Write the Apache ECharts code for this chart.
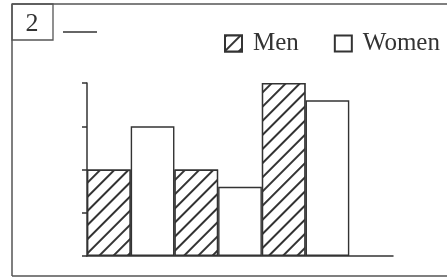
<!DOCTYPE html>
<html>
<head>
<meta charset="utf-8">
<script src="https://cdn.jsdelivr.net/npm/echarts@6/dist/echarts.min.js"></script>
<style>
  html, body { margin: 0; padding: 0; background: #fff; }
  #main { width: 447px; height: 280px; }
</style>
</head>
<body>
<div id="main"></div>
<script>
// data
var groups = ['1', '2', '3'];
var seriesNames = ['Men', 'Women'];
var men = [2, 2, 4];
var women = [3, 1.6, 3.6];
var yMax = 4;
var figureNo = '2';

// one slot per bar, plus an empty slot at the right end of the baseline
var slots = [];
var menData = [];
var womenData = [];
groups.forEach(function (g, i) {
  slots.push(g + ' ' + seriesNames[0], g + ' ' + seriesNames[1]);
  menData.push(men[i], '-');
  womenData.push('-', women[i]);
});
slots.push('');
menData.push('-');
womenData.push('-');

var ink = '#333';
var frame = '#555';

var myChart = echarts.init(document.getElementById('main'));
myChart.setOption({
  backgroundColor: '#fff',
  animation: false,
  legend: {
    left: 224,
    top: 31,
    width: 223,
    padding: 0,
    icon: 'rect',
    itemWidth: 17,
    itemHeight: 16,
    itemGap: 35,
    data: seriesNames,
    textStyle: { fontFamily: 'Liberation Serif', fontSize: 25, color: ink, padding: [0, 0, 0, 6] }
  },
  grid: { left: 87, top: 83, width: 306, height: 173 },
  xAxis: {
    type: 'category',
    data: slots,
    axisLine: { lineStyle: { color: ink, width: 1.5 } },
    axisTick: { show: false },
    axisLabel: { show: false }
  },
  yAxis: {
    type: 'value',
    min: 0,
    max: yMax,
    interval: 1,
    axisLine: { show: true, lineStyle: { color: ink, width: 1.5 } },
    axisTick: { show: true, length: 5, lineStyle: { color: ink, width: 1.5 } },
    axisLabel: { show: false },
    splitLine: { show: false }
  },
  series: [
    {
      name: seriesNames[0],
      type: 'bar',
      data: menData,
      barGap: '-100%',
      barCategoryGap: 0,
      itemStyle: {
        color: '#fff',
        borderColor: ink,
        borderWidth: 1.4,
        decal: {
          symbol: 'rect',
          color: ink,
          backgroundColor: '#fff',
          dashArrayX: [1, 0],
          dashArrayY: [1.7, 8],
          rotation: -Math.PI / 4
        }
      }
    },
    {
      name: seriesNames[1],
      type: 'bar',
      data: womenData,
      barGap: '-100%',
      barCategoryGap: 0,
      itemStyle: { color: '#fff', borderColor: ink, borderWidth: 1.4 }
    }
  ],
  graphic: [
    { type: 'line', shape: { x1: 12, y1: 4, x2: 447, y2: 4 }, style: { stroke: frame, lineWidth: 1.5 } },
    { type: 'line', shape: { x1: 12, y1: 4, x2: 12, y2: 276 }, style: { stroke: frame, lineWidth: 1.5 } },
    { type: 'line', shape: { x1: 12, y1: 276, x2: 447, y2: 276 }, style: { stroke: frame, lineWidth: 1.5 } },
    { type: 'rect', shape: { x: 12, y: 4, width: 41, height: 36 }, style: { fill: 'none', stroke: frame, lineWidth: 1.3 } },
    { type: 'text', x: 32, y: 24, style: { text: figureNo, fontFamily: 'Liberation Serif', fontSize: 26, fill: ink, align: 'center', verticalAlign: 'middle' } },
    { type: 'line', shape: { x1: 63, y1: 32, x2: 97, y2: 32 }, style: { stroke: ink, lineWidth: 1.5 } }
  ]
});
</script>
</body>
</html>
